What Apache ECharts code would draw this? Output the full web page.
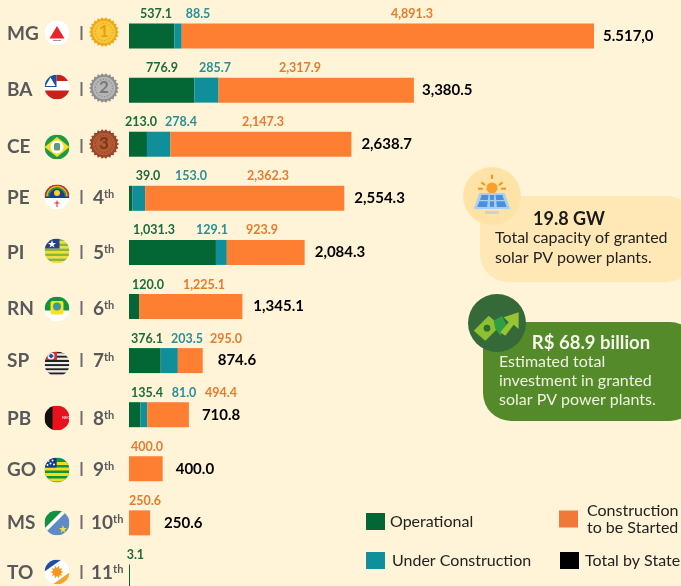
<!DOCTYPE html>
<html>
<head>
<meta charset="utf-8">
<title>Solar PV power plants by state</title>
<script src="https://cdn.jsdelivr.net/npm/echarts@6/dist/echarts.min.js"></script>
<style>
  html, body { margin: 0; padding: 0; background: #fff4d8; }
  #chart { width: 681px; height: 586px; }
</style>
</head>
<body>
<div id="chart"></div>
<script>
// data
const states = ['MG', 'BA', 'CE', 'PE', 'PI', 'RN', 'SP', 'PB', 'GO', 'MS', 'TO']
const ranks = ['1', '2', '3', '4', '5', '6', '7', '8', '9', '10', '11']
const operational = [537.1, 776.9, 213.0, 39.0, 1031.3, 120.0, 376.1, 135.4, null, null, 3.1]
const underConstruction = [88.5, 285.7, 278.4, 153.0, 129.1, null, 203.5, 81.0, null, null, null]
const toBeStarted = [4891.3, 2317.9, 2147.3, 2362.3, 923.9, 1225.1, 295.0, 494.4, 400.0, 250.6, null]
const totals = [5517.0, 3380.5, 2638.7, 2554.3, 2084.3, 1345.1, 874.6, 710.8, 400.0, 250.6, 3.1]
const totalLabels = ['5.517,0', '3,380.5', '2,638.7', '2,554.3', '2,084.3', '1,345.1', '874.6', '710.8', '400.0', '250.6', '']

// layout, the labels in the original were placed by hand
const gridLeft = 129
const gridWidth = 465
const axisMax = 5517
const rowTextY = [34, 90, 147, 198, 253, 309, 361, 419, 470, 523, 573]
const flagY = [33, 87, 147, 197, 251, 309, 364, 418, 470, 523, 572]
const medalY = [32, 88, 144]
const opLabelX = [156, 162, 141, 148, 154, 148, 147, 147, 0, 0, 135]
const ucLabelX = [198, 215, 181, 191, 212, 0, 187, 184, 0, 0, 0]
const tsLabelX = [412, 300, 263, 268, 262, 204, 226, 221, 147, 145, 0]
const totalGaps = [9, 8, 10, 10, 10, 11, 15, 13, 13, 14, 0]

const GREEN = '#036635'
const TEAL = '#0e8f99'
const ORANGE = '#ff7f32'

const pxPerUnit = gridWidth / axisMax

function svgUrl(body, size) {
    const svg = '<svg xmlns="http://www.w3.org/2000/svg" viewBox="0 0 ' + size + ' ' + size + '" width="' + size * 4 + '" height="' + size * 4 + '">' + body + '</svg>'
    return 'data:image/svg+xml;charset=utf-8,' + encodeURIComponent(svg)
}

function flag(body) {
    return svgUrl('<defs><clipPath id="c"><circle cx="25" cy="25" r="25"/></clipPath></defs><g clip-path="url(#c)">' + body + '</g>', 50)
}

function stripes(a, b, h, n) {
    let s = ''
    for (let i = 0; i < n; i++) {
        s += '<rect x="0" y="' + i * h + '" width="50" height="' + h + '" fill="' + (i % 2 ? b : a) + '"/>'
    }
    return s
}

function starburst(cx, cy, r1, r2, n) {
    let pts = []
    for (let i = 0; i < n * 2; i++) {
        const r = i % 2 ? r2 : r1
        const a = Math.PI * i / n
        pts.push((cx + r * Math.cos(a)).toFixed(2) + ',' + (cy + r * Math.sin(a)).toFixed(2))
    }
    return pts.join(' ')
}

const flags = [
    flag('<rect width="50" height="50" fill="#fff"/><polygon points="25,11 40,36 10,36" fill="#e8232a"/><rect x="17" y="39" width="16" height="2" fill="#999"/>'),
    flag('<rect width="50" height="50" fill="#fff"/><rect x="24" y="0" width="26" height="13" fill="#c8201c"/><rect y="32" width="50" height="18" fill="#c8201c"/><rect width="24" height="25" fill="#1d4f9f"/><polygon points="12,6 22,23 2,23" fill="#fff"/>'),
    flag('<rect width="50" height="50" fill="#1d9a45"/><polygon points="25,5 50,25 25,45 0,25" fill="#f6dc1c"/><circle cx="25" cy="25" r="13" fill="#fff"/><rect x="19" y="17" width="12" height="15" rx="3" fill="#5d9a78"/>'),
    flag('<rect width="50" height="25" fill="#173f8f"/><rect y="25" width="50" height="25" fill="#fff"/><path d="M2 24 A23 23 0 0 1 48 24" fill="none" stroke="#d92b2b" stroke-width="3"/><path d="M5 24 A20 20 0 0 1 45 24" fill="none" stroke="#f2b705" stroke-width="3"/><path d="M8 24 A17 17 0 0 1 42 24" fill="none" stroke="#2f9e44" stroke-width="3"/><circle cx="25" cy="17" r="6" fill="#f6d818"/><rect y="25" width="50" height="2" fill="#173f8f"/><rect x="24" y="32" width="2" height="13" fill="#d92b2b"/><rect x="20" y="36" width="10" height="2" fill="#d92b2b"/>'),
    flag(stripes('#8db72e', '#f0de3a', 5, 10) + '<rect width="30" height="20" fill="#243f94"/><polygon points="15,3 17,9 23,9 18,13 20,18 15,15 10,18 12,13 7,9 13,9" fill="#fff"/>'),
    flag('<rect width="50" height="50" fill="#fff"/><rect width="50" height="28" fill="#16913f"/><rect x="12" y="9" width="26" height="27" rx="4" fill="#f8e21c"/><circle cx="25" cy="20" r="8" fill="#3e9a9a"/>'),
    flag(stripes('#222', '#eee', 4.2, 12) + '<rect width="25" height="17" fill="#d92b2b"/><circle cx="13" cy="9" r="7" fill="#fff"/><path d="M8 9 L13 4 L19 9 L13 14 Z" fill="#1d4f9f"/>'),
    flag('<rect width="50" height="50" fill="#e8121c"/><rect width="16" height="50" fill="#111"/>'),
    flag('<rect width="50" height="50" fill="#12913f"/><rect y="20" width="50" height="6" fill="#f6dc1c"/><rect y="31" width="50" height="6" fill="#f6dc1c"/><rect y="42" width="50" height="6" fill="#f6dc1c"/><rect y="9" x="24" width="26" height="6" fill="#f6dc1c"/><rect width="24" height="20" fill="#17378c"/><circle cx="8" cy="7" r="2" fill="#fff"/><circle cx="16" cy="6" r="2" fill="#fff"/><circle cx="12" cy="12" r="2" fill="#fff"/><circle cx="19" cy="14" r="2" fill="#fff"/><circle cx="6" cy="15" r="2" fill="#fff"/>'),
    flag('<rect width="50" height="50" fill="#5f8ac6"/><polygon points="0,0 36,0 0,36" fill="#12913f"/><polygon points="36,0 46,0 0,46 0,36" fill="#fff"/><polygon points="37,29 39,35 45,35 40,39 42,45 37,41 32,45 34,39 29,35 35,35" fill="#f3e43a"/>'),
    flag('<rect width="50" height="50" fill="#fff"/><polygon points="0,0 34,0 0,24" fill="#1d4fa8"/><polygon points="50,26 50,50 16,50" fill="#f4a52c"/><polygon points="' + starburst(25, 25, 13, 8, 10) + '" fill="#f7941d"/>')
]

function medal(light, dark) {
    return svgUrl('<polygon points="' + starburst(20, 20, 20, 17.5, 22) + '" fill="' + dark + '"/><circle cx="20" cy="20" r="15" fill="' + light + '"/><circle cx="20" cy="20" r="11.5" fill="none" stroke="' + dark + '" stroke-width="1.5" stroke-dasharray="2 2"/>', 40)
}

const medals = [medal('#f9c73a', '#eca81c'), medal('#b5b5b5', '#8f8f8f'), medal('#b25a34', '#97462a')]
const medalTextColor = ['#e59f14', '#777777', '#7c3519']

const solarIcon = svgUrl('<g stroke="#f7941d" stroke-width="3"><line x1="30" y1="1" x2="30" y2="7"/><line x1="15" y1="12" x2="20" y2="16"/><line x1="45" y1="12" x2="40" y2="16"/><line x1="10" y1="21" x2="17" y2="21"/><line x1="43" y1="21" x2="50" y2="21"/></g><circle cx="30" cy="20" r="8" fill="#f9a02c"/><polygon points="12,27 48,27 56,50 4,50" fill="#a9d0f2"/><polygon points="15,30 25,30 24,37 13,37" fill="#4a90dc"/><polygon points="27,30 33,30 33,37 27,37" fill="#4a90dc"/><polygon points="35,30 45,30 47,37 36,37" fill="#4a90dc"/><polygon points="12,39 24,39 23,47 9,47" fill="#4a90dc"/><polygon points="27,39 33,39 33,47 27,47" fill="#4a90dc"/><polygon points="36,39 48,39 51,47 37,47" fill="#4a90dc"/><rect x="20" y="53" width="20" height="4" fill="#cfcfcf"/>', 60)
const moneyIcon = svgUrl('<polygon points="2,32 20,14 34,26 16,44" fill="#8fc031"/><circle cx="18" cy="29" r="4" fill="#2f6b35"/><polygon points="26,20 36,14 42,26 34,38 28,30" fill="#2f9e44"/><polygon points="34,34 44,22 38,16 56,10 56,30 50,25 40,38" fill="#97c531"/>', 60)

function segmentData(values, labelX, starts) {
    return values.map((v, i) => {
        if (v === null) return {value: null}
        const center = gridLeft + (starts[i] + v / 2) * pxPerUnit
        return {value: v, label: {show: true, offset: [labelX[i] - center, 0]}}
    })
}

function stackStarts(layers) {
    return states.map((s, i) => layers.reduce((sum, l) => sum + (l[i] || 0), 0))
}

function fmt(p) {
    return p.value.toLocaleString('en-US', {minimumFractionDigits: 1, maximumFractionDigits: 1})
}

function segmentLabel(color) {
    return {show: false, position: 'top', distance: 3, color: color, fontFamily: 'Lato', fontWeight: 'bold', fontSize: 12.5, formatter: fmt}
}

// left hand column: state, flag, divider, rank
const graphics = []
states.forEach((s, i) => {
    graphics.push({type: 'text', x: 7, y: rowTextY[i], style: {text: s, fill: '#58595b', font: 'bold 19px Lato', verticalAlign: 'middle'}})
    graphics.push({type: 'image', style: {image: flags[i], x: 44.5, y: flagY[i] - 12.5, width: 25, height: 25}})
    graphics.push({type: 'rect', shape: {x: 80.5, y: rowTextY[i] - 8, width: 2, height: 14}, style: {fill: '#6d6e71'}})
    if (i < 3) {
        graphics.push({type: 'image', style: {image: medals[i], x: 89, y: medalY[i] - 15, width: 30, height: 30}})
        graphics.push({type: 'text', x: 104, y: medalY[i], style: {text: ranks[i], fill: medalTextColor[i], font: 'bold 17px Lato', align: 'center', verticalAlign: 'middle'}})
    } else {
        graphics.push({
            type: 'text',
            x: ranks[i].length > 1 ? 91 : 93,
            y: rowTextY[i],
            style: {
                text: '{n|' + ranks[i] + '}{t|th}',
                verticalAlign: 'middle',
                rich: {
                    n: {font: 'bold 19px Lato', fill: '#58595b'},
                    t: {font: 'bold 11px Lato', fill: '#58595b', verticalAlign: 'top', padding: [0, 0, 7, 0]}
                }
            }
        })
    }
})
graphics.push({type: 'text', x: 62, y: 418, style: {text: 'NEGO', fill: '#fff', font: '4px Lato', verticalAlign: 'middle'}})

// the two info cards
graphics.push(
    {type: 'rect', shape: {x: 480, y: 196, width: 215, height: 86, r: 28}, style: {fill: '#ffe8b5'}},
    {type: 'circle', shape: {cx: 492, cy: 196, r: 29}, style: {fill: '#ffe3a6'}},
    {type: 'image', style: {image: solarIcon, x: 471, y: 174, width: 42, height: 42}},
    {type: 'text', x: 569, y: 219, style: {text: '19.8 GW', fill: '#1a1a1a', font: 'bold 18px Lato', align: 'center', verticalAlign: 'middle'}},
    {type: 'text', x: 495, y: 238, style: {text: 'Total capacity of granted', fill: '#222', font: '16px Lato', verticalAlign: 'middle'}},
    {type: 'text', x: 495, y: 258, style: {text: 'solar PV power plants.', fill: '#222', font: '16px Lato', verticalAlign: 'middle'}},
    {type: 'rect', shape: {x: 483, y: 322, width: 215, height: 99, r: 28}, style: {fill: '#548a2a'}},
    {type: 'circle', shape: {cx: 497, cy: 323, r: 29}, style: {fill: '#35693a'}},
    {type: 'image', style: {image: moneyIcon, x: 472, y: 304, width: 50, height: 50}},
    {type: 'text', x: 591, y: 343, style: {text: 'R$ 68.9 billion', fill: '#f3f6e8', font: 'bold 18.5px Lato', align: 'center', verticalAlign: 'middle'}},
    {type: 'text', x: 499, y: 362, style: {text: 'Estimated total', fill: '#eef3e0', font: '16px Lato', verticalAlign: 'middle'}},
    {type: 'text', x: 499, y: 381, style: {text: 'investment in granted', fill: '#eef3e0', font: '16px Lato', verticalAlign: 'middle'}},
    {type: 'text', x: 499, y: 400, style: {text: 'solar PV power plants.', fill: '#eef3e0', font: '16px Lato', verticalAlign: 'middle'}}
)

function legendItem(name, left, top, gap, icon) {
    return {
        data: [{name: name, icon: 'rect', itemStyle: icon ? {color: icon, opacity: 1} : undefined}],
        left: left, top: top, orient: 'horizontal', itemWidth: 19, itemHeight: 17, selectedMode: false,
        padding: 0,
        textStyle: {fontFamily: 'Lato', fontSize: 16, color: '#222', lineHeight: 17, padding: [0, 0, 0, gap]},
        formatter: n => n === 'Construction to be Started' ? 'Construction\nto be Started' : n
    }
}

const chart = echarts.init(document.getElementById('chart'))
chart.setOption({
    animation: false,
    backgroundColor: '#fff4d8',
    // the last row runs past the bottom edge, as in the original
    grid: {left: gridLeft, top: 9, width: gridWidth, height: 595, outerBoundsMode: 'none'},
    xAxis: {type: 'value', min: 0, max: axisMax, show: false},
    yAxis: {type: 'category', inverse: true, data: states, show: false},
    legend: [
        legendItem('Operational', 366, 513, 0),
        legendItem('Under Construction', 366, 552, 2),
        legendItem('Construction to be Started', 559, 502, 4, '#f0793a'),
        legendItem('Total by State', 560, 552, 1, '#000')
    ],
    series: [
        {
            name: 'Operational', type: 'bar', stack: 'state', barWidth: 25, barMinHeight: 1,
            itemStyle: {color: GREEN}, label: segmentLabel('#1c6b3e'),
            data: segmentData(operational, opLabelX, states.map(() => 0))
        },
        {
            name: 'Under Construction', type: 'bar', stack: 'state', barWidth: 25,
            itemStyle: {color: TEAL}, label: segmentLabel('#2a8f97'),
            data: segmentData(underConstruction, ucLabelX, stackStarts([operational]))
        },
        {
            name: 'Construction to be Started', type: 'bar', stack: 'state', barWidth: 25,
            itemStyle: {color: ORANGE}, label: segmentLabel('#e47b2e'),
            data: segmentData(toBeStarted, tsLabelX, stackStarts([operational, underConstruction]))
        },
        {
            name: 'Total by State', type: 'scatter', symbolSize: 0, clip: false,
            itemStyle: {color: '#000', opacity: 1},
            data: totals.map((t, i) => ({
                value: [t, states[i]],
                label: {show: totalLabels[i] !== '', distance: totalGaps[i], formatter: totalLabels[i]}
            })),
            label: {position: 'right', color: '#000', fontFamily: 'Lato', fontWeight: 'bold', fontSize: 15}
        }
    ],
    graphic: {elements: graphics}
})
</script>
</body>
</html>
